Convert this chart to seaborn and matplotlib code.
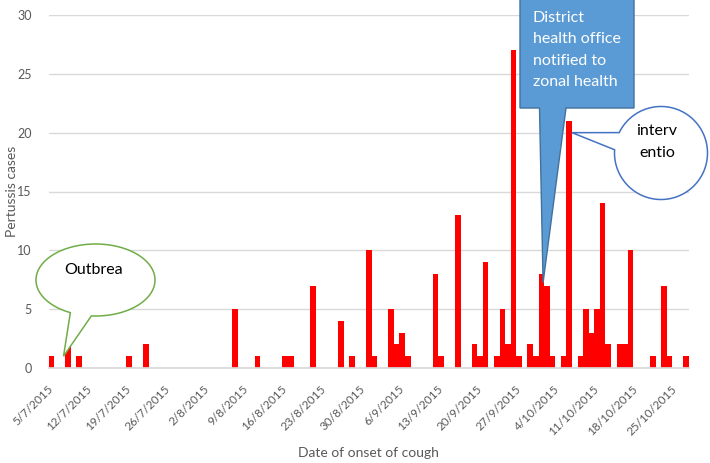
import matplotlib
matplotlib.use("Agg")
import matplotlib.pyplot as plt
from matplotlib.path import Path
from matplotlib.patches import PathPatch
import seaborn as sns
import numpy as np
import pandas as pd

sns.set_theme(style="whitegrid")
plt.rcParams["font.family"] = ["Lato", "DejaVu Sans"]

# Daily pertussis cases by date of onset of cough (days not listed had no cases)
first_day = "2015-07-05"
last_day = "2015-10-27"
onset_dates = [
    "2015-07-05", "2015-07-08", "2015-07-10", "2015-07-19", "2015-07-22",
    "2015-08-07", "2015-08-11", "2015-08-16", "2015-08-17", "2015-08-21",
    "2015-08-26", "2015-08-28", "2015-08-31", "2015-09-01", "2015-09-04",
    "2015-09-05", "2015-09-06", "2015-09-07", "2015-09-12", "2015-09-13",
    "2015-09-16", "2015-09-19", "2015-09-20", "2015-09-21", "2015-09-23",
    "2015-09-24", "2015-09-25", "2015-09-26", "2015-09-27", "2015-09-29",
    "2015-09-30", "2015-10-01", "2015-10-02", "2015-10-03", "2015-10-05",
    "2015-10-06", "2015-10-08", "2015-10-09", "2015-10-10", "2015-10-11",
    "2015-10-12", "2015-10-13", "2015-10-15", "2015-10-16", "2015-10-17",
    "2015-10-21", "2015-10-23", "2015-10-24", "2015-10-27",
]
cases = [
    1, 2, 1, 1, 2,
    5, 1, 1, 1, 7,
    4, 1, 10, 1, 5,
    2, 3, 1, 8, 1,
    13, 2, 1, 9, 1,
    5, 2, 27, 1, 2,
    1, 8, 7, 1, 1,
    21, 1, 5, 3, 5,
    14, 2, 2, 2, 10,
    1, 7, 1, 1,
]
yticks = [0, 5, 10, 15, 20, 25, 30]

days = pd.date_range(first_day, last_day, freq="D")
daily = pd.Series(cases, index=pd.to_datetime(onset_dates)).reindex(days, fill_value=0)
df = pd.DataFrame({
    "day": [f"{d.day}/{d.month}/{d.year}" for d in days],
    "cases": daily.values,
})

W, H = 710, 463
fig = plt.figure(figsize=(W / 100, H / 100), dpi=100)
ax = fig.add_axes([48.5 / W, 1 - 368 / H, (689 - 48.5) / W, (368 - 15) / H])

sns.barplot(data=df, x="day", y="cases", order=list(df["day"]), color="#FF0000",
            saturation=1, width=1.0, linewidth=0, errorbar=None, ax=ax)

ax.set_ylim(0, 30)
ax.set_yticks(yticks)
ax.set_xlim(-0.5, len(df) - 0.5)
tick_pos = np.arange(0, len(df), 7)
ax.set_xticks(tick_pos)
ax.set_xticklabels(df["day"].iloc[tick_pos], rotation=45, ha="right",
                   va="center", rotation_mode="anchor")
ax.tick_params(axis="x", length=0, pad=14, labelsize=8.5, labelcolor="#595959")
ax.tick_params(axis="y", length=0, pad=12, labelsize=9, labelcolor="#595959")
ax.set_xlabel("Date of onset of cough", fontsize=10, color="#595959")
ax.set_ylabel("Pertussis cases", fontsize=10, color="#595959")
ax.xaxis.set_label_coords(0.5, (368 - 453) / 353, transform=ax.transAxes)
ax.yaxis.set_label_coords((12 - 48.5) / 640.5, 0.5, transform=ax.transAxes)
ax.xaxis.label.set_va("center")
ax.yaxis.label.set_va("center")
ax.yaxis.grid(True, color="#D9D9D9", linewidth=1)
ax.xaxis.grid(False)
ax.set_axisbelow(True)
for side in ["left", "right", "top"]:
    ax.spines[side].set_visible(False)
ax.spines["bottom"].set_color("#D9D9D9")
ax.set_facecolor("white")


# --- callout shapes (layout in reference pixels, y measured from the top) ---
def fig_xy(pts):
    pts = np.asarray(pts, dtype=float)
    return np.column_stack([pts[:, 0] / W, 1 - pts[:, 1] / H])


def data_tip(x, y):
    disp = ax.transData.transform((x, y))
    return disp[0], H - disp[1]


def ellipse_callout(cx, cy, a, b, t_lo, t_hi, tip, **kw):
    t = np.radians(np.linspace(t_lo, t_hi - 360, 200))
    arc = np.column_stack([cx + a * np.cos(t), cy + b * np.sin(t)])
    pts = np.vstack([[tip], arc, [tip]])
    codes = [Path.MOVETO] + [Path.LINETO] * (len(pts) - 2) + [Path.CLOSEPOLY]
    fig.patches.append(PathPatch(Path(fig_xy(pts), codes), transform=fig.transFigure, **kw))


fig.canvas.draw()

# outbreak balloon
ellipse_callout(95.5, 280, 59.5, 36, 94, 115, data_tip(2.2, 1.0),
                facecolor="white", edgecolor="#70AD47", linewidth=1.1)
fig.text(94 / W, 1 - 270 / H, "Outbrea", fontsize=11.5, color="black",
         ha="center", va="center")

# intervention balloon
ellipse_callout(661, 153, 46.5, 46.5, 184, 206, data_tip(93.5, 20.0),
                facecolor="white", edgecolor="#4472C4", linewidth=1.1)
fig.text(657 / W, 1 - 142 / H, "interv\nentio", fontsize=11.5, color="black",
         ha="center", va="center", linespacing=1.65)

# notification box
tip = data_tip(88.3, 7.25)
box = [(520, -1), (634, -1), (634, 108), (566, 108), tip, (539.5, 108), (520, 108), (520, -1)]
codes = [Path.MOVETO] + [Path.LINETO] * (len(box) - 2) + [Path.CLOSEPOLY]
fig.patches.append(PathPatch(Path(fig_xy(box), codes), transform=fig.transFigure,
                             facecolor="#5B9BD5", edgecolor="#41719C", linewidth=1))
fig.text(533 / W, 1 - 50 / H, "District\nhealth office\nnotified to\nzonal health",
         fontsize=11.5, color="white", ha="left", va="center", linespacing=1.65)

fig.savefig("out.png", dpi=100, facecolor="white")
